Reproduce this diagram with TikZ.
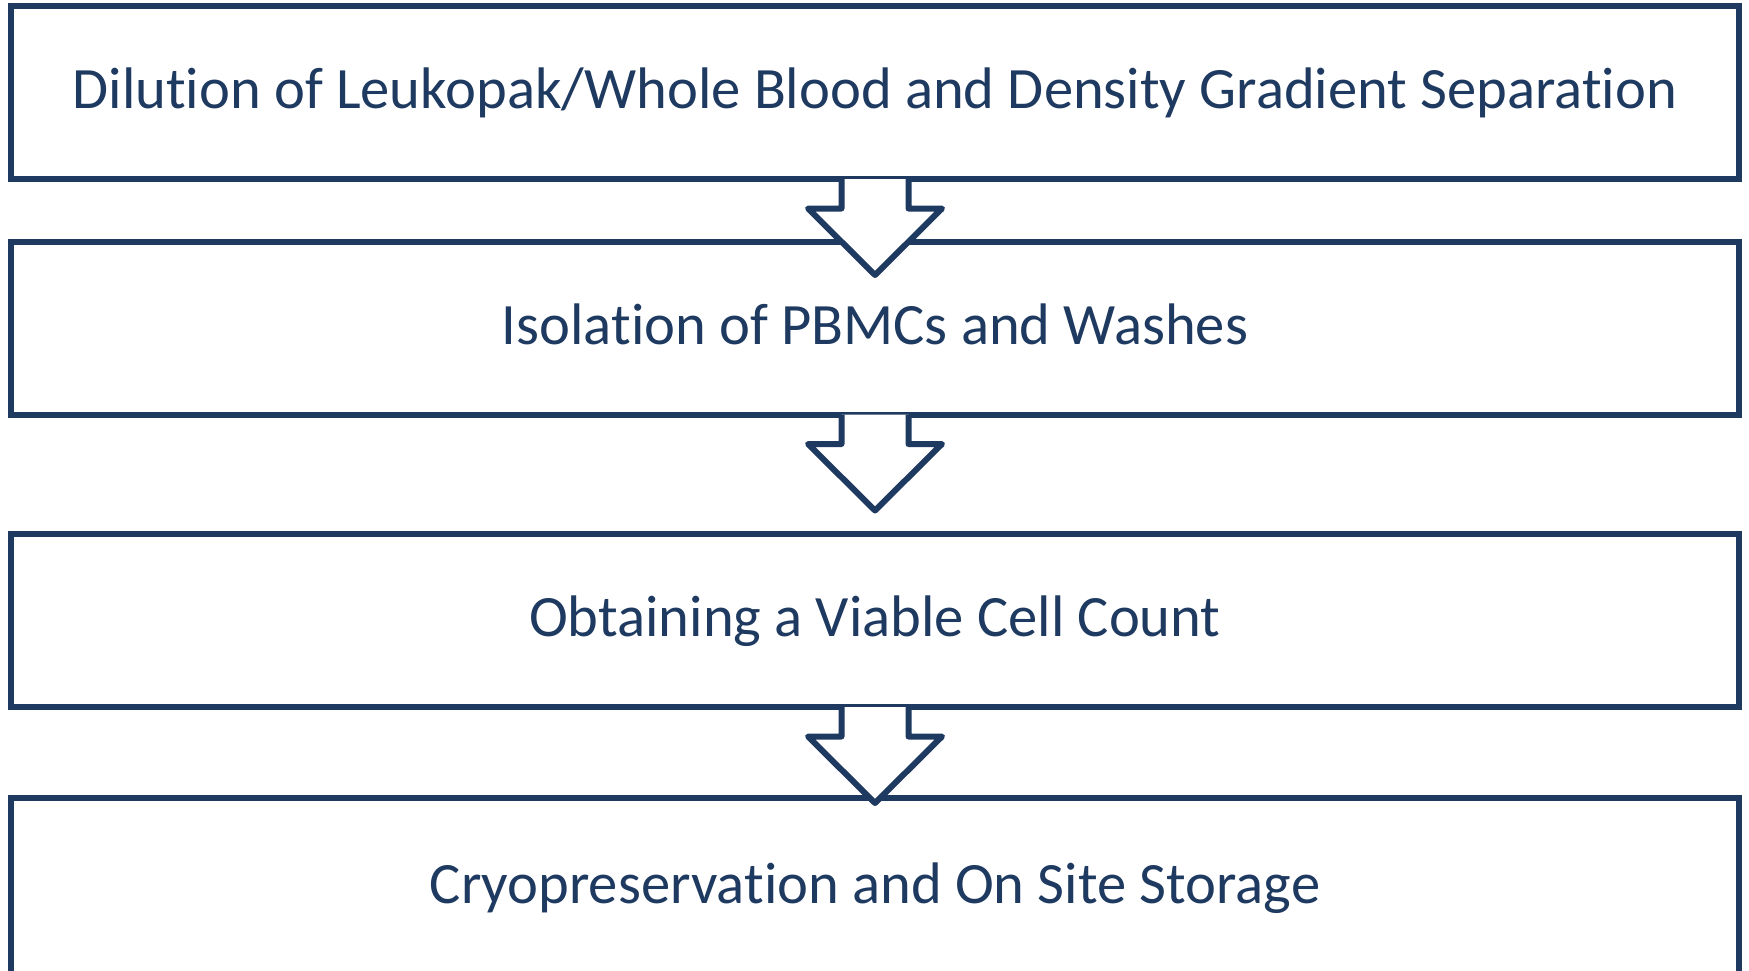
\documentclass[tikz,border=0pt]{standalone}
\usepackage{fontspec}
\setmainfont{Carlito}[Ligatures=NoCommon]
\usetikzlibrary{calc}
\definecolor{navy}{HTML}{1E3A60}
\newcommand{\flowarrow}[1]{%
  \fill[white] ($(#1.south)+(-33.5,-3)$) -- ($(#1.south)+(-33.5,26.5)$) -- ($(#1.south)+(-67,26.5)$) -- ($(#1.south)+(0,93)$) -- ($(#1.south)+(67,26.5)$) -- ($(#1.south)+(33.5,26.5)$) -- ($(#1.south)+(33.5,-3)$) -- cycle;
  \draw[flowline] ($(#1.south)+(-33.5,-3)$) -- ($(#1.south)+(-33.5,26.5)$) -- ($(#1.south)+(-67,26.5)$) -- ($(#1.south)+(0,93)$) -- ($(#1.south)+(67,26.5)$) -- ($(#1.south)+(33.5,26.5)$) -- ($(#1.south)+(33.5,-3)$);
}
\begin{document}
\begin{tikzpicture}[x=1pt,y=-1pt,
  stepbox/.style={draw=navy, line width=6pt, rectangle, inner sep=0pt,
    minimum width=1728pt, minimum height=173pt, text=navy,
    text height=32pt, text depth=0pt,
    font=\fontsize{58.6}{62}\selectfont},
  flowline/.style={draw=navy, line width=6pt, line join=round}]
\useasboundingbox (0,0) rectangle (1749,970);
\node[stepbox] (b1) at (875,92.5) {Dilution of Leukopak/Whole Blood and Density Gradient Separation};
\node[stepbox] (b2) at (875,328) {Isolation of PBMCs and Washes};
\node[stepbox] (b3) at (875,620.5) {Obtaining a Viable Cell Count};
\node[stepbox, minimum height=178pt] (b4) at (875,887) {Cryopreservation and On Site Storage};
\flowarrow{b1}
\flowarrow{b2}
\flowarrow{b3}
\end{tikzpicture}
\end{document}
